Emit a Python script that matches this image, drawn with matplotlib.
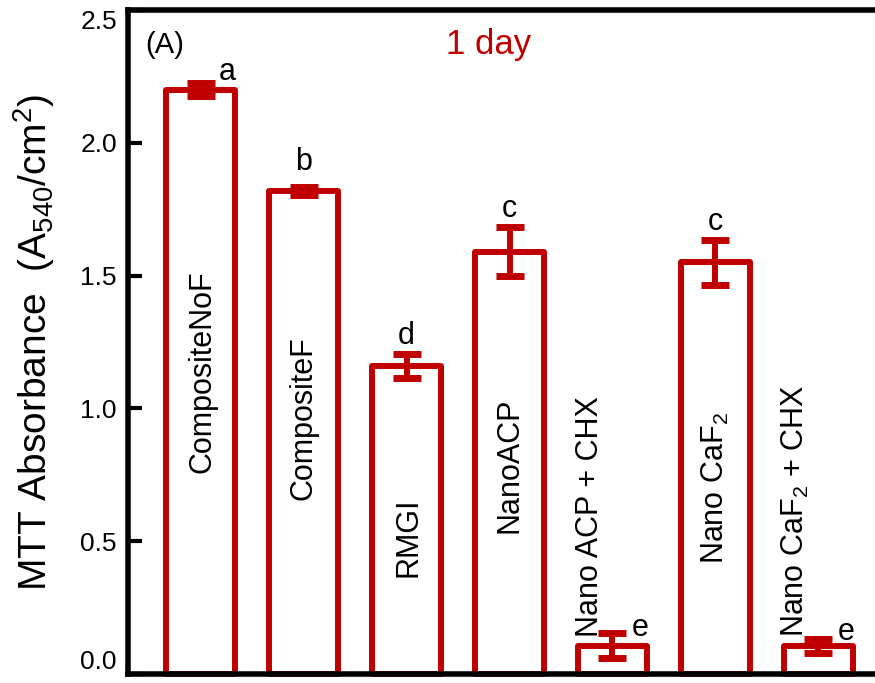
import matplotlib.pyplot as plt
import numpy as np

plt.rcParams['font.family'] = ['Liberation Sans', 'DejaVu Sans']
plt.rcParams['mathtext.fontset'] = 'custom'
plt.rcParams['mathtext.rm'] = 'Liberation Sans'
plt.rcParams['mathtext.it'] = 'Liberation Sans'

# data
groups = ['CompositeNoF', 'CompositeF', 'RMGI', 'NanoACP',
          'Nano ACP + CHX', 'Nano CaF$_2$', 'Nano CaF$_2$ + CHX']
means = [2.20, 1.82, 1.16, 1.59, 0.107, 1.55, 0.105]
errs = [0.025, 0.015, 0.046, 0.093, 0.048, 0.085, 0.027]
letters = ['a', 'b', 'd', 'c', 'e', 'c', 'e']

red = '#C00000'
x = np.arange(len(groups))

fig = plt.figure(figsize=(8.75, 6.83), dpi=100)
# axes runs past the right edge of the picture, as in the original crop
ax = fig.add_axes([128/875, 1 - 674/683, 763/875, 664/683])

bars = ax.bar(x, means, width=0.67, color='white', edgecolor=red,
              linewidth=4.3, clip_on=False, zorder=2)
for b in bars:
    b.set_joinstyle('round')
ax.errorbar(x, means, yerr=errs, fmt='none', ecolor=red, elinewidth=4.3,
            capsize=10, capthick=5, zorder=3)

# labels inside the bars
lab_y = [1.137, 0.964, 0.516, 0.787, 0.14, 0.70, 0.14]
lab_dx = [0.02, 0, 0.02, 0, -0.22, 0, -0.22]
lab_va = ['center', 'center', 'center', 'center', 'bottom', 'center', 'bottom']
for i, g in enumerate(groups):
    ax.text(x[i] + lab_dx[i], lab_y[i], g, rotation=90, ha='center',
            va=lab_va[i], fontsize=22, zorder=4)

# significance letters
let_off = [(19, 2), (0, 12), (0, 7), (0, 7), (20, -2), (0, 7), (20, -1)]
for i, l in enumerate(letters):
    ax.annotate(l, (x[i], means[i] + errs[i]), xytext=let_off[i],
                textcoords='offset points', ha='center', va='baseline',
                fontsize=22)

ax.text(-0.54, 2.37, '(A)', fontsize=21, va='center', ha='left')
ax.text(2.8, 2.37, '1 day', fontsize=25, color=red, va='center', ha='center')

ax.set_xlim(-0.704, 6.704)
ax.set_ylim(0, 2.5)
ax.set_yticks([0, 0.5, 1.0, 1.5, 2.0, 2.5])
ax.set_yticklabels(['0.0', '0.5', '1.0', '1.5', '2.0', '2.5'])
ax.set_xticks([])
ax.tick_params(axis='y', direction='in', length=10, width=3, labelsize=19, pad=8)
tl = ax.get_yticklabels()
tl[0].set_va('bottom')
tl[-1].set_va('top')
for s in ['left', 'bottom', 'top']:
    ax.spines[s].set_linewidth(4)
ax.spines['right'].set_visible(False)

ax.set_ylabel('MTT Absorbance  (A$_{540}$/cm$^2$)', fontsize=28)
ax.yaxis.set_label_coords(-0.093, 0.5)

fig.savefig('out.png', dpi=100)
